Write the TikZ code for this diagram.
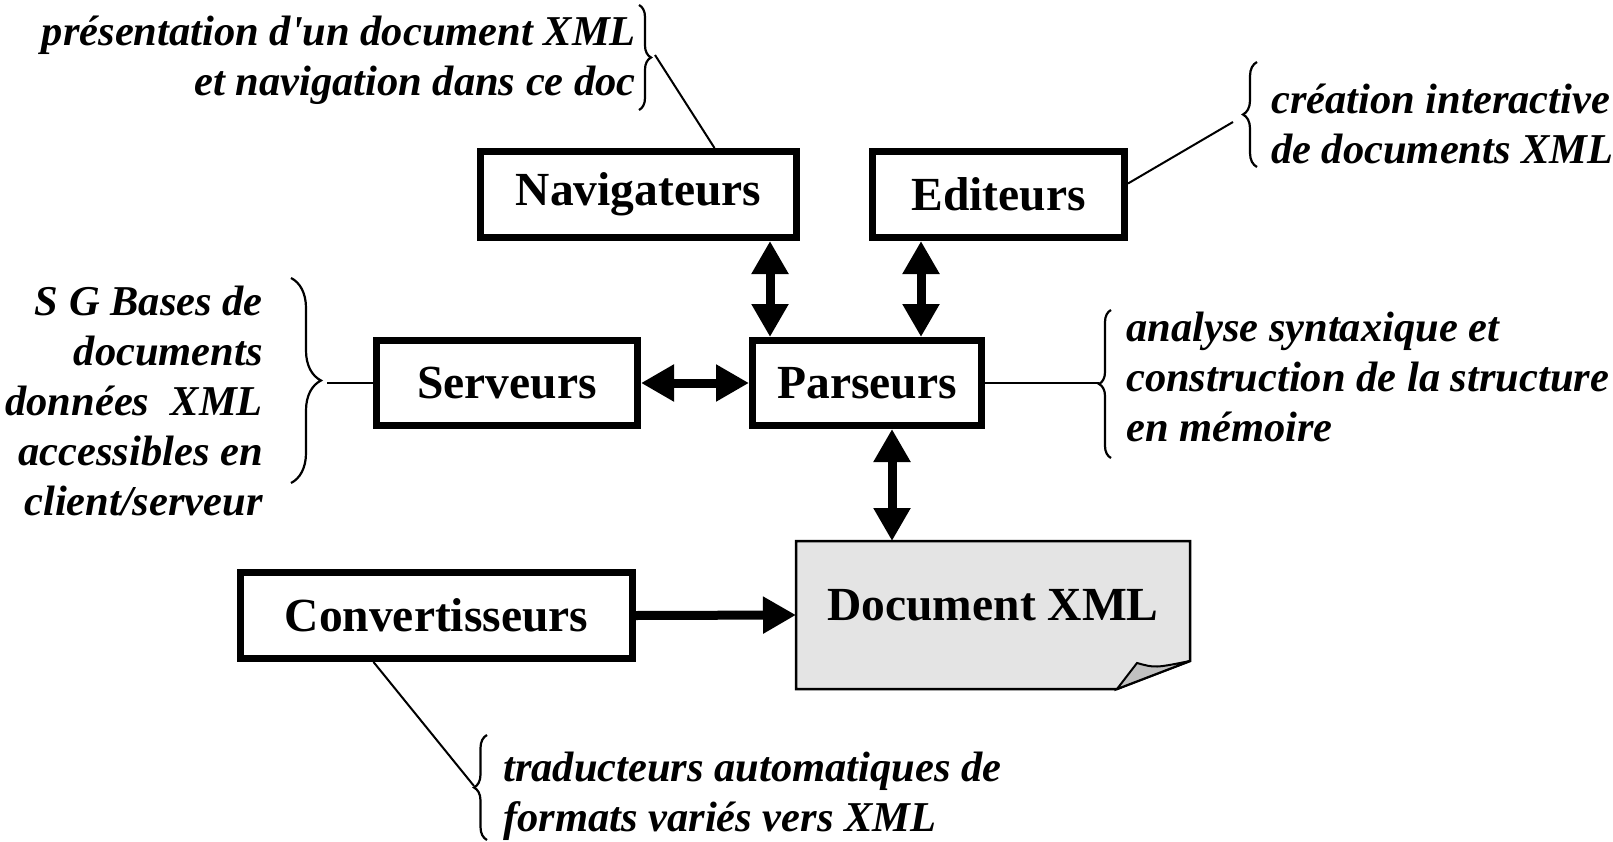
\documentclass[tikz,border=0pt]{standalone}
\usepackage{fontspec}
\setmainfont{Liberation Serif}
\usetikzlibrary{arrows.meta,decorations.pathreplacing}
\definecolor{docgray}{RGB}{228,228,228}
\definecolor{foldgray}{RGB}{192,192,192}

\begin{document}
\begin{tikzpicture}[x=1pt, y=-1pt]
\tikzset{box/.style={draw, line width=7pt, inner sep=0pt, font=\fontsize{47.5}{50}\selectfont\bfseries}}
\tikzset{note/.style={inner sep=0pt, font=\fontsize{42.5}{50}\selectfont\bfseries\itshape}}
\tikzset{link/.style={line width=9pt, {Triangle[length=33pt,width=35pt]}-{Triangle[length=33pt,width=35pt]}}}
\tikzset{lead/.style={line width=2pt}}
\tikzset{curly/.style={line width=2.2pt, decorate, decoration={brace, amplitude=#1}}}
\useasboundingbox (0,0) rectangle (1613,842);

% the five tools
\node[box, minimum width=316pt, minimum height=86pt] (nav) at (638.5,194.5) {Navigateurs};
\node[box, minimum width=252pt, minimum height=86pt] (edit) at (998.5,194.5) {Editeurs};
\node[box, minimum width=261pt, minimum height=85pt] (serv) at (507,383) {Serveurs};
\node[box, minimum width=229pt, minimum height=85pt] (pars) at (867,383) {Parseurs};
\node[box, minimum width=392pt, minimum height=86pt] (conv) at (436.5,615.5) {Convertisseurs};

% the document, with its folded corner
\node[minimum width=394pt, minimum height=148pt, inner sep=0pt, outer sep=0pt] (doc) at (993,615) {};
\draw[line width=2.5pt, fill=docgray] (doc.north west) -- (doc.north east)
  -- ([yshift=28pt]doc.south east) -- ([xshift=-73pt]doc.south east) -- (doc.south west) -- cycle;
\draw[line width=2pt, fill=foldgray] ([xshift=-73pt]doc.south east)
  -- ([xshift=-53pt,yshift=26pt]doc.south east)
  .. controls ([xshift=-35pt,yshift=21pt]doc.south east) .. ([yshift=28pt]doc.south east) -- cycle;
\node[box, draw=none] (doclabel) at ([yshift=10pt]doc.center) {Document XML};

\draw[link] ([xshift=-97pt]pars.north |- nav.south) -- ([xshift=-97pt]pars.north);
\draw[link] ([xshift=54pt]pars.north |- edit.south) -- ([xshift=54pt]pars.north);
\draw[link] (serv.east) -- (pars.west);
\draw[link] ([xshift=25pt]pars.south) -- ([xshift=25pt]pars.south |- doc.north);
\draw[line width=9pt, -{Triangle[length=33pt,width=35pt]}] (conv.east) -- (doc.west);

% notes
\draw[curly=12pt] (639,5) -- (639,110);
\node[note, anchor=east, align=right] (navnote) at (636,60) {présentation d\textquotesingle un document XML\\et navigation dans ce doc};
\coordinate (navtip) at (655,55);
\draw[lead] (navtip) -- ([xshift=76pt]nav.north);

\draw[curly=14pt] (1257,167) -- (1257,62);
\node[note, anchor=west, align=left] (editnote) at (1271,124) {création interactive\\de documents XML};
\coordinate (edittip) at (1233,122);
\draw[lead] ([yshift=11pt]edit.east) -- (edittip);

\draw[curly=30pt] (291,278) -- (291,483);
\node[note, anchor=east, align=right] (servnote) at (263,401) {S G Bases de\\documents\\données \ XML\\accessibles en\\client/serveur};
\coordinate (servtip) at (327,383);
\draw[lead] (servtip) -- (serv.west);

\draw[curly=12pt] (1111,458) -- (1111,310);
\node[note, anchor=west, align=left] (parsnote) at (1126,377) {analyse syntaxique et\\construction de la structure\\en mémoire};
\coordinate (parstip) at (1099,383);
\draw[lead] (pars.east) -- (parstip);

\draw[curly=13pt] (487,840) -- (487,735);
\node[note, anchor=west, align=left] (convnote) at (503,796) {traducteurs automatiques de\\formats variés vers XML};
\coordinate (convtip) at (474,786);
\draw[lead] ([xshift=-63pt]conv.south) -- (convtip);
\end{tikzpicture}
\end{document}
